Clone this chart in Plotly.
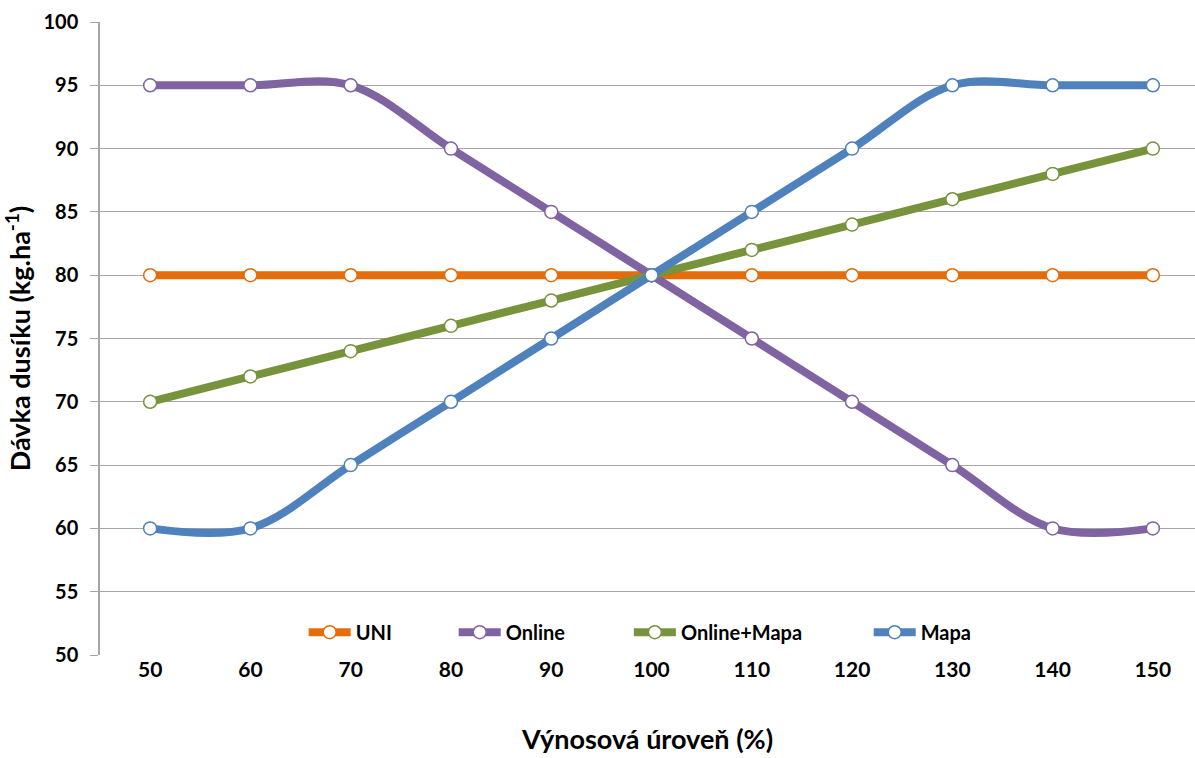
import plotly.graph_objects as go

# Yield level categories (%)
vynos = [50, 60, 70, 80, 90, 100, 110, 120, 130, 140, 150]

# Nitrogen dose (kg/ha) for each strategy
uni = [80, 80, 80, 80, 80, 80, 80, 80, 80, 80, 80]
online = [95, 95, 95, 90, 85, 80, 75, 70, 65, 60, 60]
online_mapa = [70, 72, 74, 76, 78, 80, 82, 84, 86, 88, 90]
mapa = [60, 60, 65, 70, 75, 80, 85, 90, 95, 95, 95]

y_ticks = list(range(50, 101, 5))

series = [
    ("UNI", uni, "#E46C0A", "legend", 0.186),
    ("Online", online, "#8064A2", "legend2", 0.323),
    ("Online+Mapa", online_mapa, "#77933C", "legend3", 0.483),
    ("Mapa", mapa, "#4F81BD", "legend4", 0.702),
]

FONT = "Lato"

fig = go.Figure()
for name, vals, color, leg, _ in series:
    fig.add_trace(go.Scatter(
        x=vynos, y=vals, name=name, mode="lines+markers",
        line=dict(color=color, width=8, shape="spline", smoothing=1),
        marker=dict(size=13, color="white", line=dict(color=color, width=1.5)),
        legend=leg,
    ))

legend_common = dict(
    orientation="h", yanchor="middle", xanchor="left", y=0.036,
    bgcolor="rgba(0,0,0,0)",
    font=dict(family=FONT, size=20, color="black", weight="bold"),
    itemwidth=42, tracegroupgap=0,
)
layout_legends = {}
for name, vals, color, leg, lx in series:
    layout_legends[leg] = dict(legend_common, x=lx)

fig.update_layout(
    width=1195, height=758,
    margin=dict(l=100, r=0, t=22, b=103),
    plot_bgcolor="white", paper_bgcolor="white",
    font=dict(family=FONT, color="black"),
    showlegend=True,
    **layout_legends,
)

fig.update_xaxes(
    range=[45.0, 154.2], tickvals=vynos, ticktext=[str(v) for v in vynos],
    showgrid=False, zeroline=False, showline=False, ticks="",
    tickfont=dict(family=FONT, size=21, color="black", weight="bold"),
    title=dict(text="Výnosová úroveň (%)", standoff=50,
               font=dict(family=FONT, size=27, color="black", weight="bold")),
)
fig.update_yaxes(
    range=[50, 100], tickvals=y_ticks,
    showgrid=True, gridcolor="#A6A6A6", gridwidth=1, zeroline=False,
    showline=True, linecolor="#A6A6A6", linewidth=1.5,
    ticks="outside", ticklen=8, tickcolor="#A6A6A6", ticklabelstandoff=8,
    tickfont=dict(family=FONT, size=20, color="black", weight="bold"),
    title=dict(text="Dávka dusíku (kg.ha<sup>-1</sup>)", standoff=10,
               font=dict(family=FONT, size=27, color="black", weight="bold")),
)

fig.write_html("out.html")
